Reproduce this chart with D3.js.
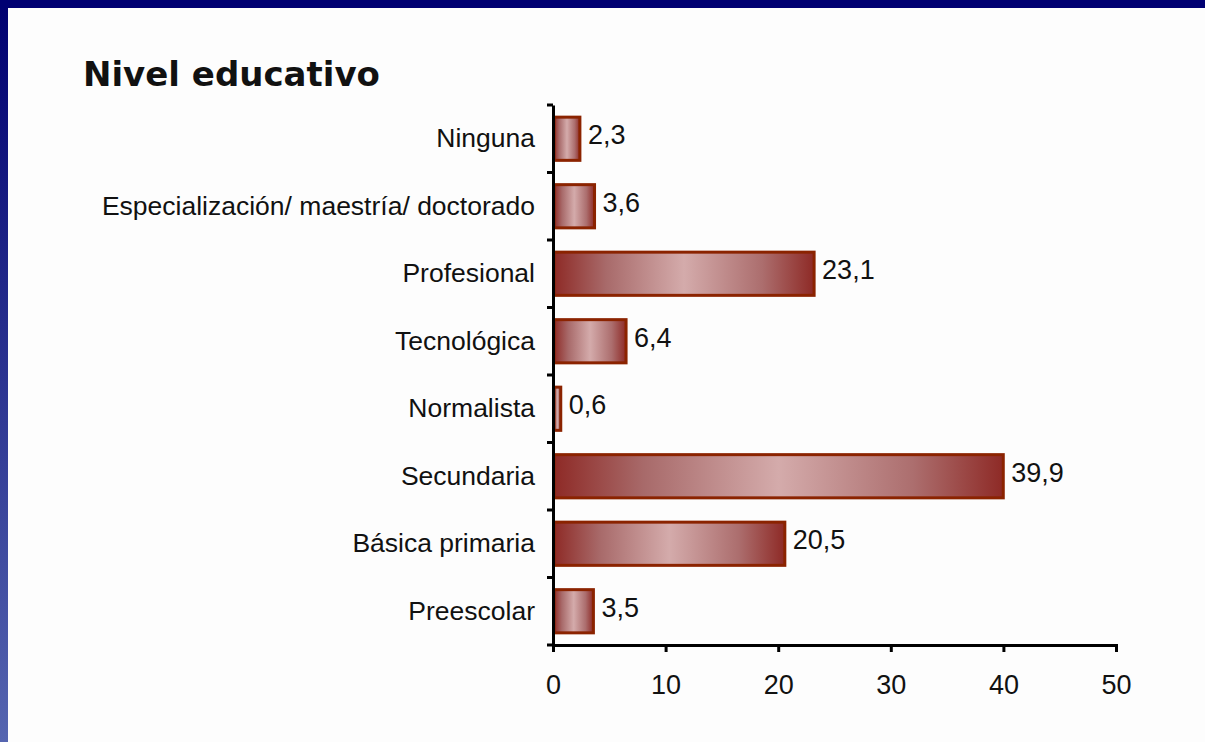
<!DOCTYPE html>
<html>
<head>
<meta charset="utf-8">
<script src="https://cdn.jsdelivr.net/npm/d3@7"></script>
<style>
  html, body { margin: 0; padding: 0; background: #fdfdfd; }
  svg { display: block; }
</style>
</head>
<body>
<svg id="graph"></svg>
<script>
// datos
const categorias = ['Ninguna', 'Especialización/ maestría/ doctorado', 'Profesional', 'Tecnológica',
    'Normalista', 'Secundaria', 'Básica primaria', 'Preescolar'];
const valores = [2.3, 3.6, 23.1, 6.4, 0.6, 39.9, 20.5, 3.5];
const ticksX = [0, 10, 20, 30, 40, 50];

var svgWidth = 1205;
var svgHeight = 742;
var svg = d3.select('#graph')
    .attr('width', svgWidth)
    .attr('height', svgHeight);

var defs = svg.append('defs');
var borde = defs.append('linearGradient')
    .attr('id', 'borde').attr('x1', 0).attr('y1', 0).attr('x2', 0).attr('y2', 1);
borde.append('stop').attr('offset', '0%').attr('stop-color', '#000070');
borde.append('stop').attr('offset', '100%').attr('stop-color', '#5565b0');

var barra = defs.append('linearGradient')
    .attr('id', 'barra').attr('x1', 0).attr('y1', 0).attr('x2', 1).attr('y2', 0);
barra.append('stop').attr('offset', '0%').attr('stop-color', '#8e2a26');
barra.append('stop').attr('offset', '20%').attr('stop-color', '#a86a6a');
barra.append('stop').attr('offset', '50%').attr('stop-color', '#d4abab');
barra.append('stop').attr('offset', '80%').attr('stop-color', '#ac6e6e');
barra.append('stop').attr('offset', '100%').attr('stop-color', '#8e2a26');

// marco azul
svg.append('rect').attr('x', 0).attr('y', 0).attr('width', svgWidth).attr('height', svgHeight)
    .attr('fill', '#fdfdfd');
svg.append('rect').attr('x', 0).attr('y', 0).attr('width', 8).attr('height', svgHeight)
    .attr('fill', 'url(#borde)');
svg.append('rect').attr('x', 0).attr('y', 0).attr('width', svgWidth).attr('height', 8)
    .attr('fill', '#000072');

svg.append('text')
    .attr('x', 83).attr('y', 86)
    .attr('font-family', 'DejaVu Sans')
    .attr('font-weight', 'bold')
    .attr('font-size', 34)
    .attr('fill', '#111')
    .text('Nivel educativo');

var x = d3.scaleLinear().domain([0, 50]).range([553, 1116]);
var y = d3.scaleBand().domain(categorias).range([105, 645]).paddingInner(0.36).paddingOuter(0.18);

var font = 'Liberation Sans';

// barras
svg.selectAll('rect.bar')
    .data(valores)
    .enter()
    .append('rect')
    .attr('class', 'bar')
    .attr('x', x(0) + 1)
    .attr('y', (d, i) => y(categorias[i]))
    .attr('width', d => x(d) - x(0))
    .attr('height', y.bandwidth())
    .attr('fill', 'url(#barra)')
    .attr('stroke', '#8b2300')
    .attr('stroke-width', 3);

svg.selectAll('text.val')
    .data(valores)
    .enter()
    .append('text')
    .attr('class', 'val')
    .attr('x', d => x(d) + 9)
    .attr('y', (d, i) => y(categorias[i]) + y.bandwidth() / 2 - 4)
    .attr('dy', '0.35em')
    .attr('font-family', font)
    .attr('font-size', 27)
    .attr('fill', '#111')
    .text(d => String(d.toFixed(1)).replace('.', ','));

// eje y
var ejeY = svg.append('g')
    .attr('transform', 'translate(' + x(0) + ',0)')
    .call(d3.axisLeft(y).tickSize(0).tickPadding(18));
ejeY.select('.domain').attr('stroke', '#000').attr('stroke-width', 3);
ejeY.selectAll('text').attr('font-family', font).attr('font-size', 26.5).attr('fill', '#111');

var limites = categorias.map(c => y(c) - (y.step() - y.bandwidth()) / 2).concat([645]);
svg.selectAll('line.tk')
    .data(limites)
    .enter()
    .append('line')
    .attr('class', 'tk')
    .attr('x1', x(0) - 6).attr('x2', x(0))
    .attr('y1', d => d).attr('y2', d => d)
    .attr('stroke', '#000').attr('stroke-width', 3);

// eje x
var ejeX = svg.append('g')
    .attr('transform', 'translate(0,645)')
    .call(d3.axisBottom(x).tickValues(ticksX).tickSize(7).tickPadding(23).tickFormat(d3.format('d')));
ejeX.select('.domain').attr('stroke', '#000').attr('stroke-width', 3);
ejeX.selectAll('.tick line').attr('stroke', '#000').attr('stroke-width', 3);
ejeX.selectAll('text').attr('font-family', font).attr('font-size', 27).attr('fill', '#111');
</script>
</body>
</html>
